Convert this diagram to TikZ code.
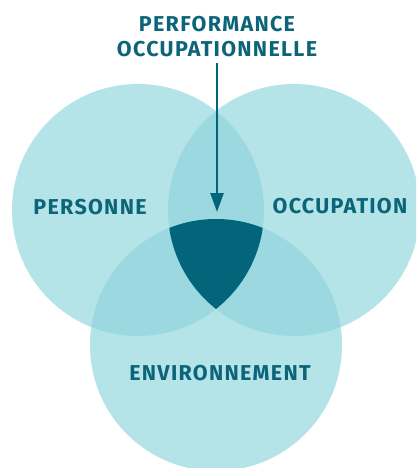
\documentclass[tikz,border=0pt]{standalone}
\usepackage{fontspec}
\setmainfont{Fira Sans}[LetterSpace=6]
\usetikzlibrary{arrows.meta}
\definecolor{pale}{HTML}{B4E3E8}
\definecolor{overlap}{HTML}{9CD8E0}
\definecolor{core}{HTML}{02657A}
\definecolor{ink}{HTML}{0B6478}
\begin{document}
\begin{tikzpicture}[x=1pt, y=-1pt,
    lbl/.style={text=ink, font=\bfseries\fontsize{21.5}{25}\selectfont, align=center, inner sep=0pt}]
    \useasboundingbox (0,0) rectangle (416,468);
    \clip (0,0) rectangle (416,468);
    \coordinate (p) at (138,210); \coordinate (o) at (294,210);
    \coordinate (e) at (216,345);
    \def\rad{126}

    \foreach \c in {p,o,e} \fill[pale] (\c) circle (\rad);
    \begin{scope} \clip (p) circle (\rad); \fill[overlap] (o) circle (\rad); \fill[overlap] (e) circle (\rad); \end{scope}
    \begin{scope} \clip (o) circle (\rad); \fill[overlap] (e) circle (\rad); \end{scope}
    \begin{scope} \clip (p) circle (\rad); \clip (o) circle (\rad); \fill[core] (e) circle (\rad); \end{scope}

    \node[lbl] (perf) at (217,37) {PERFORMANCE\\OCCUPATIONNELLE};
    \node[lbl] (pers) at (90,207) {PERSONNE};
    \node[lbl] (occ) at (340,206) {OCCUPATION};
    \node[lbl] (env) at (220,373) {ENVIRONNEMENT};

    \coordinate (tail) at (217,63); \coordinate (tip) at (217,212);
    \draw[core, line width=2.5pt, -{Triangle[length=19pt, width=13pt]}] (tail) -- (tip);
\end{tikzpicture}
\end{document}
